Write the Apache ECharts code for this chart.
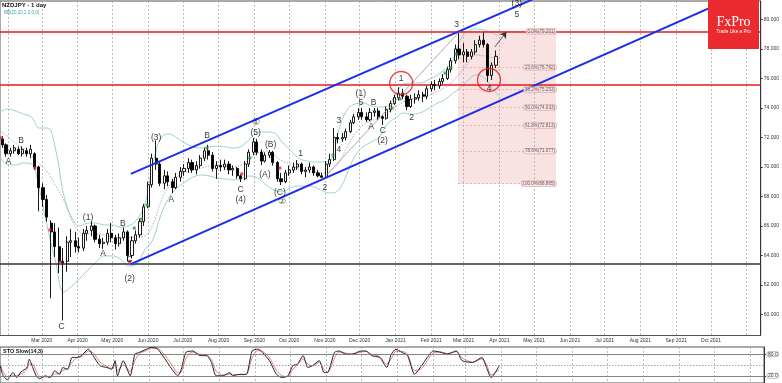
<!DOCTYPE html>
<html><head><meta charset="utf-8">
<script src="https://cdn.jsdelivr.net/npm/echarts@6/dist/echarts.min.js"></script>
<style>html,body{margin:0;padding:0;background:#fff}#c{width:782px;height:383px}</style>
</head><body><div id="c"></div>
<script>
// ---------- DATA ----------
const candleDates = ['2020-01-27','2020-01-30','2020-02-03','2020-02-06','2020-02-10','2020-02-13','2020-02-17','2020-02-20','2020-02-24','2020-02-27',
'2020-03-02','2020-03-05','2020-03-09','2020-03-12','2020-03-16','2020-03-19','2020-03-23','2020-03-26','2020-03-30','2020-04-02',
'2020-04-06','2020-04-09','2020-04-13','2020-04-16','2020-04-20','2020-04-23','2020-04-27','2020-04-30','2020-05-04','2020-05-07',
'2020-05-11','2020-05-14','2020-05-18','2020-05-21','2020-05-25','2020-05-28','2020-06-01','2020-06-04','2020-06-08','2020-06-11',
'2020-06-15','2020-06-18','2020-06-22','2020-06-25','2020-06-29','2020-07-02','2020-07-06','2020-07-09','2020-07-13','2020-07-16',
'2020-07-20','2020-07-23','2020-07-27','2020-07-30','2020-08-03','2020-08-06','2020-08-10','2020-08-13','2020-08-17','2020-08-20',
'2020-08-24','2020-08-27','2020-08-31','2020-09-03','2020-09-07','2020-09-10','2020-09-14','2020-09-17','2020-09-21','2020-09-24',
'2020-09-28','2020-10-01','2020-10-05','2020-10-08','2020-10-12','2020-10-15','2020-10-19','2020-10-22','2020-10-26','2020-10-29',
'2020-11-02','2020-11-05','2020-11-09','2020-11-12','2020-11-16','2020-11-19','2020-11-23','2020-11-26','2020-11-30','2020-12-03',
'2020-12-07','2020-12-10','2020-12-14','2020-12-17','2020-12-21','2020-12-24','2020-12-28','2020-12-31','2021-01-04','2021-01-07',
'2021-01-11','2021-01-14','2021-01-18','2021-01-21','2021-01-25','2021-01-28','2021-02-01','2021-02-04','2021-02-08','2021-02-11',
'2021-02-15','2021-02-18','2021-02-22','2021-02-25','2021-03-01','2021-03-04','2021-03-08','2021-03-11','2021-03-15','2021-03-18',
'2021-03-22','2021-03-25','2021-03-29'];
const opens = [71.9,71.5,70.9,71.1,71.2,70.9,71.1,70.9,70.9,70.0,
68.6,67.8,66.2,65.6,64.6,63.6,63.6,64.9,65.0,64.6,
64.5,65.5,65.7,66.0,65.1,64.8,64.9,65.5,65.2,64.8,
65.2,65.6,64.0,65.0,65.4,66.3,67.3,68.8,70.6,70.2,
68.9,69.4,69.0,68.6,69.3,69.7,69.9,70.3,69.8,70.1,
70.6,71.1,70.8,69.9,70.1,70.0,70.2,69.8,69.9,69.4,
69.2,70.2,71.0,71.7,71.0,70.4,70.8,71.0,70.3,69.2,
69.0,69.6,69.8,70.0,70.2,69.7,69.8,70.0,69.6,69.4,
69.3,70.2,70.5,72.0,71.9,72.0,72.4,73.0,73.4,73.7,
73.4,73.2,73.7,73.8,73.4,73.3,73.9,74.3,74.7,75.0,
74.8,74.1,74.6,74.7,74.9,74.8,75.3,75.6,75.5,75.8,
76.0,76.6,77.2,78.0,77.6,77.8,77.5,77.8,78.3,78.6,
78.3,76.2,76.9];
const closes = [71.5,70.9,71.1,71.3,70.9,71.2,70.9,71.2,70.0,68.6,
67.8,66.6,65.6,64.6,63.6,63.5,64.9,65.0,64.6,64.5,
65.5,65.7,66.0,65.1,64.8,64.9,65.5,65.2,64.8,65.2,
65.6,64.0,65.0,65.4,66.3,67.3,68.8,70.6,70.2,68.9,
69.4,69.0,68.6,69.3,69.7,69.9,70.3,69.8,70.1,70.6,
71.1,70.8,69.9,70.1,70.0,70.2,69.8,69.9,69.4,69.2,
70.2,71.0,71.7,71.0,70.4,70.8,71.0,70.3,69.2,69.0,
69.6,69.8,70.0,70.2,69.7,69.8,70.0,69.6,69.4,69.3,
70.2,70.5,72.0,71.9,72.0,72.4,73.0,73.4,73.7,73.4,
73.2,73.7,73.8,73.4,73.3,73.9,74.3,74.7,75.0,74.8,
74.1,74.6,74.7,74.9,74.8,75.3,75.6,75.5,75.8,76.0,
76.6,77.2,78.0,77.6,77.8,77.5,77.8,78.3,78.6,78.3,
76.2,76.9,77.5];
const lows = [71.3,70.7,70.7,70.9,70.8,70.7,70.7,70.6,69.8,67.0,
67.3,66.3,61.1,63.9,62.8,59.6,62.9,63.9,64.2,64.2,
64.3,65.0,65.3,64.9,64.5,64.45,64.7,64.9,64.4,64.6,
65.0,63.6,63.8,64.8,65.2,66.0,67.2,68.6,69.8,68.7,
68.5,68.7,68.24,68.5,69.0,69.4,69.6,69.6,69.5,69.9,
70.4,70.5,69.7,69.2,69.7,69.8,69.5,69.4,69.2,68.98,
69.1,70.0,70.8,70.8,70.13,70.3,70.6,70.1,69.0,68.78,
68.9,69.4,69.6,69.8,69.5,69.3,69.6,69.4,69.3,69.25,
69.2,70.0,70.4,71.6,71.7,71.8,72.3,72.9,73.2,73.2,
73.05,73.1,73.4,73.2,72.85,73.2,73.7,74.2,74.5,74.6,
73.86,74.0,74.3,74.5,74.4,74.6,75.1,75.2,75.3,75.6,
75.9,76.4,77.0,77.3,77.1,77.1,77.3,77.6,78.1,78.1,
75.76,75.9,76.7];
const highs = [72.1,71.6,71.3,71.5,71.4,71.4,71.3,71.5,71.0,70.1,
68.9,68.1,66.4,66.2,65.9,64.5,65.3,65.8,65.6,65.2,
65.8,66.0,66.3,66.1,65.4,65.2,65.8,66.2,65.4,65.5,
65.9,65.7,65.3,65.7,66.5,67.5,69.0,70.9,71.8,70.4,
69.8,69.7,69.2,69.6,70.0,70.2,70.6,70.5,70.4,70.8,
71.3,71.5,71.0,70.4,70.5,70.5,70.4,70.1,70.0,69.5,
70.4,71.2,71.96,71.9,71.2,71.0,71.15,71.1,70.4,69.6,
69.8,70.1,70.3,70.47,70.3,70.0,70.3,70.1,69.8,69.6,
70.4,70.9,72.64,72.3,72.3,72.6,73.2,73.6,74.0,74.0,
73.7,74.0,74.0,74.0,73.5,74.1,74.5,74.9,75.4,75.3,
74.9,74.9,75.0,75.2,75.1,75.5,75.8,75.9,76.0,76.3,
76.8,77.4,78.3,79.2,78.4,78.0,78.0,78.6,78.9,79.12,
78.4,77.1,77.9];

const bbDates = ['2020-01-24','2020-01-31','2020-02-07','2020-02-14','2020-02-21','2020-02-28','2020-03-06','2020-03-13','2020-03-20','2020-03-27',
'2020-04-03','2020-04-10','2020-04-17','2020-04-24','2020-05-01','2020-05-08','2020-05-15','2020-05-22','2020-05-29','2020-06-05',
'2020-06-12','2020-06-19','2020-06-26','2020-07-03','2020-07-10','2020-07-17','2020-07-24','2020-07-31','2020-08-07','2020-08-14',
'2020-08-21','2020-08-28','2020-09-04','2020-09-11','2020-09-18','2020-09-25','2020-10-02','2020-10-09','2020-10-16','2020-10-23',
'2020-10-30','2020-11-06','2020-11-13','2020-11-20','2020-11-27','2020-12-04','2020-12-11','2020-12-18','2020-12-25','2021-01-01',
'2021-01-08','2021-01-15','2021-01-22','2021-01-29','2021-02-05','2021-02-12','2021-02-19','2021-02-26','2021-03-05','2021-03-12',
'2021-03-19','2021-03-26','2021-03-31'];
const bbUpper = [73.66,73.93,73.80,73.59,73.39,72.64,72.64,71.15,68.10,66.54,
66.0,66.2,66.2,66.07,66.07,65.93,66.0,66.41,67.42,70.14,
71.97,72.24,71.97,71.63,71.36,71.29,71.36,71.42,71.36,71.29,
71.42,71.9,72.37,72.37,72.31,71.69,71.15,70.61,70.41,70.34,
70.34,70.47,72.51,73.86,74.27,74.34,74.14,74.07,74.14,74.88,
75.63,75.69,75.69,75.9,76.17,76.58,77.12,78.61,79.22,79.36,
79.29,79.08,78.88];
const bbMiddle = [72.51,72.1,71.63,71.22,70.75,70.2,69.66,68.71,67.76,66.41,
65.59,65.46,65.46,65.39,65.25,65.19,65.19,65.25,65.32,66.07,
67.63,68.71,69.32,69.66,69.8,69.93,70.07,70.14,70.07,70.0,
70.14,70.54,70.95,71.08,70.81,70.41,70.2,69.86,69.73,69.66,
69.59,69.73,70.27,71.36,72.24,72.85,73.12,73.32,73.66,74.07,
74.41,74.61,74.68,74.81,75.08,75.36,75.76,76.37,77.12,77.59,
77.53,77.39,77.25];
const bbLower = [70.68,70.2,70.14,70.27,70.2,68.44,65.86,63.56,61.53,61.93,
62.47,63.02,63.56,63.97,63.97,63.76,63.29,63.42,64.37,65.05,
66.75,67.9,68.58,68.98,69.32,69.46,69.39,69.25,69.19,69.12,
69.25,69.39,69.25,68.78,68.44,68.31,68.58,68.71,68.71,68.64,
68.37,68.24,68.44,69.53,70.75,71.36,71.69,72.03,72.92,73.32,
73.66,73.59,73.66,73.93,74.27,74.54,74.95,75.36,75.9,76.24,
76.03,75.36,74.81];

const stochDates = ['2020-01-25','2020-01-27','2020-01-31','2020-02-05','2020-02-08','2020-02-12','2020-02-17','2020-02-19','2020-02-22','2020-02-25',
'2020-02-28','2020-03-04','2020-03-08','2020-03-12','2020-03-16','2020-03-19','2020-03-23','2020-03-27','2020-03-31','2020-04-04',
'2020-04-10','2020-04-14','2020-04-20','2020-04-26','2020-04-30','2020-05-03','2020-05-05','2020-05-10','2020-05-16','2020-05-20',
'2020-05-24','2020-05-30','2020-06-03','2020-06-08','2020-06-13','2020-06-21','2020-06-26','2020-06-29','2020-07-03','2020-07-09',
'2020-07-15','2020-07-21','2020-07-25','2020-07-29','2020-08-04','2020-08-10','2020-08-12','2020-08-18','2020-08-24','2020-08-29',
'2020-09-03','2020-09-07','2020-09-13','2020-09-19','2020-09-24','2020-09-29','2020-10-03','2020-10-07','2020-10-12','2020-10-16',
'2020-10-20','2020-10-26','2020-10-30','2020-11-02','2020-11-08','2020-11-12','2020-11-18','2020-11-23','2020-12-01','2020-12-05',
'2020-12-10','2020-12-17','2020-12-23','2020-12-27','2020-12-31','2021-01-05','2021-01-10','2021-01-16','2021-01-22','2021-01-27',
'2021-02-01','2021-02-08','2021-02-13','2021-02-21','2021-02-26','2021-03-07','2021-03-15','2021-03-19','2021-03-23','2021-03-30'];
const stochMain = [48,24,9,29,15,31,43,66,43,20,
12,20,15,34,24,43,38,71,71,76,
94,76,48,43,38,62,20,62,20,80,
85,94,99,96,76,38,20,38,85,89,
76,76,57,20,20,29,20,24,24,89,
94,85,62,24,15,20,48,52,76,43,
48,62,29,29,85,89,80,80,89,89,
76,71,43,80,94,85,76,24,48,71,
89,85,80,89,62,57,71,43,15,48];
const stochSignal = [55,35,18,20,20,25,38,52,52,32,
18,17,17,25,27,35,40,58,70,73,
88,84,58,46,41,52,35,50,32,62,
82,90,96,97,84,50,28,30,68,86,
80,77,65,33,22,25,24,23,24,70,
90,88,70,35,20,18,38,50,67,52,
48,57,38,30,68,86,83,80,86,88,
80,73,52,68,88,88,79,35,40,62,
83,86,82,87,70,58,67,52,22,38];

const priceTicks = [60,62,64,66,68,70,72,74,76,78,80];
const gridMonths = ['2020-02-01','2020-03-01','2020-04-01','2020-05-01','2020-06-01','2020-07-01','2020-08-01','2020-09-01','2020-10-01','2020-11-01','2020-12-01',
'2021-01-01','2021-02-01','2021-03-01','2021-04-01','2021-05-01','2021-06-01','2021-07-01','2021-08-01','2021-09-01','2021-10-01','2021-11-01'];
const labelMonths = ['2020-03-01','2020-04-01','2020-05-01','2020-06-01','2020-07-01','2020-08-01','2020-09-01','2020-10-01','2020-11-01','2020-12-01',
'2021-01-01','2021-02-01','2021-03-01','2021-04-01','2021-05-01','2021-06-01','2021-07-01','2021-08-01','2021-09-01','2021-10-01'];
const labelTexts = ['Mar 2020','Apr 2020','May 2020','Jun 2020','Jul 2020','Aug 2020','Sep 2020','Oct 2020','Nov 2020','Dec 2020',
'Jan 2021','Feb 2021','Mar 2021','Apr 2021','May 2021','Jun 2021','Jul 2021','Aug 2021','Sep 2021','Oct 2021'];
const stochTicks = [20,80];

const redLevels = [79.2, 75.6];
const blackLevels = [63.42];
const fibLevels = [0, 23.6, 38.2, 50, 61.8, 78.6, 100];
const fibValues = [79.201, 76.762, 75.253, 74.033, 72.813, 71.077, 68.865];
const fibRange = ['2021-02-24', '2021-05-20'];
const channelUpper = [['2020-05-17', 69.53], ['2021-05-21', 82.09]];
const channelLower = [['2020-05-17', 63.42], ['2021-11-13', 82.31]];
const fibDiagonal = [['2020-11-01', 69.34], ['2021-02-26', 79.22]];
const arrowPath = [['2021-03-28', 78.14], ['2021-04-07', 79.15]];
const circles = [['2021-01-06', 75.69], ['2021-03-23', 75.9]];
const redMarks = [['2020-01-26',71.97],['2020-02-24',69.93],['2020-03-08',65.73],['2020-03-17',63.56],['2020-05-16',63.6],['2020-08-21',69.53],['2020-09-23',69.93]];
const greenMarks = [['2020-05-20',65.86],['2020-05-26',66.47],['2020-05-31',67.42],['2020-07-22',71.29],['2020-08-28',70.61],['2020-11-08',70.81],['2020-12-29',74.0],['2021-01-05',74.61],['2021-02-13',76.37],['2021-02-18',76.71],['2021-02-23',77.66]];
const waveLabels = [
['2020-02-01',70.36,'A'],['2020-02-12',71.76,'B'],['2020-03-18',59.17,'C'],
['2020-04-10',66.56,'(1)'],['2020-04-23',64.1,'A'],['2020-05-10',66.14,'B'],['2020-05-16',63.74,'C'],['2020-05-16',62.41,'(2)'],
['2020-06-08',71.99,'(3)'],['2020-06-21',67.76,'A'],['2020-07-22',72.1,'B'],['2020-08-20',68.49,'C'],['2020-08-20',67.76,'(4)'],
['2020-09-02',73.0,'①'],['2020-09-02',72.33,'(5)'],['2020-09-10',69.5,'(A)'],['2020-09-15',71.54,'(B)'],['2020-09-23',68.26,'(C)'],['2020-09-25',67.65,'②'],
['2020-10-11',70.88,'1'],['2020-11-01',68.6,'2'],['2020-11-13',73.14,'3'],['2020-11-13',71.15,'4'],
['2020-12-02',75.0,'(1)'],['2020-12-02',74.36,'5'],['2020-12-11',72.73,'A'],['2020-12-13',74.36,'B'],['2020-12-21',72.44,'C'],['2020-12-21',71.76,'(2)'],
['2021-01-06',75.97,'1'],['2021-01-15',73.37,'2'],['2021-02-23',79.63,'3'],['2021-03-23',75.34,'4'],
['2021-04-16',81.1,'(3)'],['2021-04-16',80.3,'5']
];
const priceTags = [77.517, 76.862];

// ---------- BUILD ----------
const DAY = 86400000;
const ts = s => new Date(s + 'T00:00:00').getTime();
const xMin = ts('2020-03-01') - 36.19 * DAY;
const xMax = xMin + (764 / 1.1606) * DAY;
const yMin = 58.576, yMax = 81.254;
const labelTs = labelMonths.map(ts);
const gridTs = gridMonths.map(ts);
const FONT = 'Liberation Sans';
const pt = a => [ts(a[0]), a[1]];

const monthFmt = v => { const i = labelTs.findIndex(t => Math.abs(t - v) < DAY / 2); return i < 0 ? '' : labelTexts[i]; };

const chart = echarts.init(document.getElementById('c'), null, {renderer: 'canvas'});
chart.setOption({
  animation: false,
  backgroundColor: '#fff',
  textStyle: {fontFamily: FONT},
  grid: [
    {left: 0, right: 18, top: 1, height: 334.5, show: true, borderColor: '#555', borderWidth: 1},
    {left: 0, right: 18, top: 347, height: 36.5, show: true, borderColor: '#555', borderWidth: 1}
  ],
  xAxis: [
    {type: 'value', gridIndex: 0, min: xMin, max: xMax, scale: true,
     axisLine: {show: true, lineStyle: {color: '#555'}},
     axisTick: {show: false, customValues: gridTs},
     axisLabel: {customValues: labelTs, formatter: monthFmt, fontSize: 5, color: '#333', margin: 3, fontFamily: FONT},
     splitLine: {show: true, lineStyle: {color: '#aaa', type: [2, 2], width: 0.8}}},
    {type: 'value', gridIndex: 1, min: xMin, max: xMax, scale: true,
     axisLine: {show: false}, axisTick: {show: false, customValues: gridTs}, axisLabel: {show: false, customValues: gridTs},
     splitLine: {show: true, lineStyle: {color: '#aaa', type: [2, 2], width: 0.8}}}
  ],
  yAxis: [
    {type: 'value', gridIndex: 0, position: 'right', min: yMin, max: yMax, scale: true,
     axisLine: {show: true, lineStyle: {color: '#333'}},
     axisTick: {show: true, length: 2, customValues: priceTicks, lineStyle: {color: '#333'}},
     axisLabel: {customValues: priceTicks, formatter: v => v.toFixed(3), fontSize: 5, color: '#333', margin: 3, fontFamily: FONT},
     splitLine: {show: false}},
    {type: 'value', gridIndex: 1, position: 'right', min: 0, max: 100,
     axisLine: {show: true, lineStyle: {color: '#333'}},
     axisTick: {show: true, length: 2, customValues: stochTicks},
     axisLabel: {customValues: stochTicks, formatter: v => v.toFixed(1), fontSize: 5, color: '#333', margin: 3,
                 borderColor: '#777', borderWidth: 0.5, borderRadius: 2, padding: [0, 1]},
     splitLine: {show: false}}
  ],
  graphic: [
    {type: 'text', x: 2, y: 2, z: 100, style: {text: 'NZDJPY - 1 day', font: 'bold 6px "Liberation Sans"', fill: '#111'}},
    {type: 'text', x: 4, y: 10, z: 100, style: {text: 'BB(20,20,2.0,0,0)', font: '4.5px "Liberation Sans"', fill: '#4aa3ab'}},
    {type: 'text', x: 3, y: 348.5, z: 100, style: {text: 'STO Slow(14,3)', font: 'bold 5.5px "Liberation Sans"', fill: '#111'}},
    {type: 'rect', z: 100, shape: {x: 708, y: 0, width: 51, height: 49}, style: {fill: '#ea2a2e'}},
    {type: 'text', x: 733.5, y: 22, z: 101, style: {text: 'FxPro', font: '14px "Liberation Serif"', fill: '#fff', align: 'center', verticalAlign: 'middle'}},
    {type: 'text', x: 733.5, y: 32, z: 101, style: {text: 'Trade Like a Pro', font: '4.7px "Liberation Sans"', fill: '#fff', align: 'center', verticalAlign: 'middle'}}
  ],
  series: [
    {type: 'line', name: 'bbU', xAxisIndex: 0, yAxisIndex: 0, data: bbDates.map((d, i) => [ts(d), bbUpper[i]]),
     smooth: 0.4, showSymbol: false, lineStyle: {color: '#9ccfd4', width: 1}, z: 2},
    {type: 'line', name: 'bbL', xAxisIndex: 0, yAxisIndex: 0, data: bbDates.map((d, i) => [ts(d), bbLower[i]]),
     smooth: 0.4, showSymbol: false, lineStyle: {color: '#9ccfd4', width: 1}, z: 2},
    {type: 'line', name: 'bbM', xAxisIndex: 0, yAxisIndex: 0, data: bbDates.map((d, i) => [ts(d), bbMiddle[i]]),
     smooth: 0.4, showSymbol: false, lineStyle: {color: '#999', width: 0.8, type: [1.5, 1.5]}, z: 2},
    {type: 'line', name: 'fib', xAxisIndex: 0, yAxisIndex: 0,
     data: [[ts(fibRange[0]), fibValues[0]], [ts(fibRange[1]), fibValues[fibValues.length - 1]]],
     showSymbol: false, lineStyle: {opacity: 0}, z: 1, silent: true,
     markArea: {silent: true, itemStyle: {color: 'rgba(232,150,150,0.28)'},
       data: [[{coord: [ts(fibRange[0]), fibValues[0]]}, {coord: [ts(fibRange[1]), fibValues[fibValues.length - 1]]}]]},
     markLine: {silent: true, symbol: 'none', label: {show: false},
       lineStyle: {color: '#e4a3a3', width: 0.8, type: [2, 2]},
       data: fibValues.map(v => [{coord: [ts(fibRange[0]), v]}, {coord: [ts(fibRange[1]), v]}])}},
    {type: 'candlestick', name: 'NZDJPY', xAxisIndex: 0, yAxisIndex: 0, barWidth: 2.6, z: 5,
     data: candleDates.map((d, i) => [ts(d), opens[i], closes[i], lows[i], highs[i]]),
     itemStyle: {color: '#ffffff', color0: '#000000', borderColor: '#000000', borderColor0: '#000000', borderWidth: 0.9},
     markLine: {silent: true, symbol: 'none', label: {show: false},
       data: redLevels.map(v => ({yAxis: v, lineStyle: {color: '#e8191e', width: 1.5, type: 'solid'}}))
         .concat(blackLevels.map(v => ({yAxis: v, lineStyle: {color: '#333', width: 1.5, type: 'solid'}})))}},
    {type: 'line', name: 'chU', xAxisIndex: 0, yAxisIndex: 0, data: channelUpper.map(pt), showSymbol: false,
     lineStyle: {color: '#1d2ee8', width: 2}, z: 6},
    {type: 'line', name: 'chL', xAxisIndex: 0, yAxisIndex: 0, data: channelLower.map(pt), showSymbol: false,
     lineStyle: {color: '#1d2ee8', width: 2}, z: 6},
    {type: 'line', name: 'diag', xAxisIndex: 0, yAxisIndex: 0, data: fibDiagonal.map(pt), showSymbol: false,
     lineStyle: {color: '#888', width: 0.7}, z: 6},
    {type: 'lines', coordinateSystem: 'cartesian2d', xAxisIndex: 0, yAxisIndex: 0, z: 7,
     symbol: ['none', 'arrow'], symbolSize: 6, lineStyle: {color: '#333', width: 0.8, opacity: 1},
     data: [{coords: arrowPath.map(pt)}]},
    {type: 'scatter', name: 'circles', xAxisIndex: 0, yAxisIndex: 0, z: 8, data: circles.map(pt), symbolSize: 23,
     itemStyle: {color: 'rgba(0,0,0,0)', borderColor: '#e8191e', borderWidth: 1.4}},
    {type: 'scatter', name: 'red', xAxisIndex: 0, yAxisIndex: 0, z: 7, data: redMarks.map(pt), symbol: 'rect', symbolSize: [3, 3],
     itemStyle: {color: '#d42a2a'}},
    {type: 'scatter', name: 'green', xAxisIndex: 0, yAxisIndex: 0, z: 7, data: greenMarks.map(pt), symbol: 'rect', symbolSize: [3, 3],
     itemStyle: {color: '#2a9a2a'}},
    {type: 'scatter', name: 'waves', xAxisIndex: 0, yAxisIndex: 0, z: 9, symbolSize: 0,
     data: waveLabels.map(w => [ts(w[0]), w[1], w[2]]),
     label: {show: true, position: 'inside', formatter: p => p.data[2], fontSize: 8.5, color: '#000', fontFamily: FONT}},
    {type: 'scatter', name: 'fibLabels', xAxisIndex: 0, yAxisIndex: 0, z: 9, symbolSize: 0,
     data: fibValues.map((v, i) => [ts(fibRange[1]), v, fibLevels[i]]),
     label: {show: true, position: 'left', distance: 0, fontSize: 4.6, color: '#333', fontFamily: FONT,
       formatter: p => p.data[2].toFixed(1) + '%(' + p.data[1].toFixed(3) + ')',
       backgroundColor: '#fbeaea', borderColor: '#e2a0a0', borderWidth: 0.7, borderRadius: 2, padding: [0, 1]}},
    {type: 'line', name: 'tags', xAxisIndex: 0, yAxisIndex: 0, data: [], z: 9,
     markLine: {silent: true, symbol: 'none', lineStyle: {opacity: 0},
       data: priceTags.map((v, i) => ({yAxis: v, label: {show: true, position: 'end', distance: 3, fontSize: 5, color: '#222',
         formatter: v.toFixed(3), backgroundColor: i === 1 ? '#f2c4c4' : '#fff', borderColor: '#999', borderWidth: 0.5, padding: [0, 1]}}))}},
    {type: 'line', name: 'signal', xAxisIndex: 1, yAxisIndex: 1, data: stochDates.map((d, i) => [ts(d), stochSignal[i]]),
     showSymbol: false, smooth: 0.3, lineStyle: {color: '#e06060', width: 0.8}, z: 3},
    {type: 'line', name: 'main', xAxisIndex: 1, yAxisIndex: 1, data: stochDates.map((d, i) => [ts(d), stochMain[i]]),
     showSymbol: false, smooth: 0.2, lineStyle: {color: '#222', width: 1}, z: 4,
     markLine: {silent: true, symbol: 'none', label: {show: false},
       data: [{yAxis: 80, lineStyle: {color: '#777', width: 0.9, type: 'solid'}},
              {yAxis: 20, lineStyle: {color: '#777', width: 0.9, type: 'solid'}},
              {yAxis: 50, lineStyle: {color: '#888', width: 0.8, type: [1.5, 1.5]}}]}}
  ]
});
</script></body></html>
